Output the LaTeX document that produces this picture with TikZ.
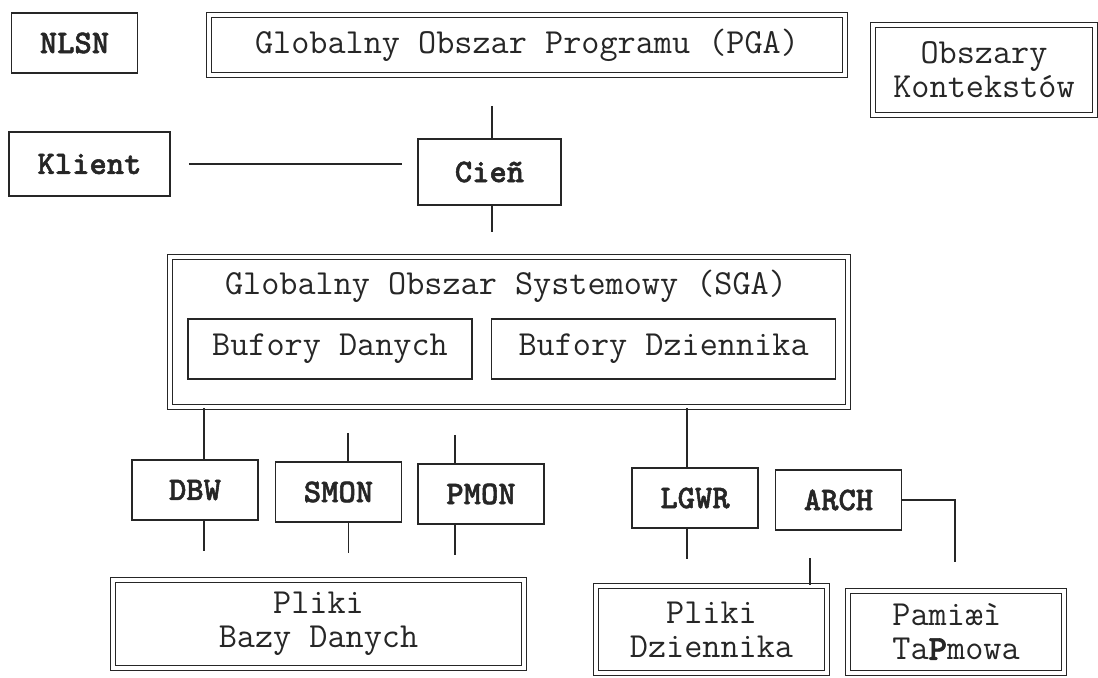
\documentclass[tikz,border=0pt]{standalone}
\usepackage{fontspec}
\newfontfamily\unitfont{lmmonolt10-bold}[Extension=.otf, FakeBold=1.6]
\usetikzlibrary{positioning}

\begin{document}
\begin{tikzpicture}[
        x=0.5pt, y=-0.5pt,
        every node/.style={
            inner sep=0pt,
            text=black!85,
            font=\fontsize{17.6}{17}\selectfont\ttfamily
        },
        unit/.style={
            rectangle,
            draw=black!85,
            line width=0.9pt,
            minimum width=63pt,
            minimum height=30pt,
            font=\fontsize{16.5}{16}\selectfont\unitfont
        },
        area/.style={
            rectangle,
            draw=black!85,
            line width=0.6pt,
            double,
            double distance=1.6pt,
            align=center
        },
        buffer/.style={
            rectangle,
            draw=black!85,
            line width=0.8pt,
            minimum height=30pt
        },
        link/.style={
            draw=black!85,
            line width=0.8pt
        }
    ]
        \useasboundingbox (0,0) rectangle (1098,678);

        % Nodes
        \node[unit] (nlsn) at (74.5,43) {NLSN};
        \node[area, minimum width=318pt, minimum height=30pt] (pga) at (527,45) {Globalny Obszar Programu (PGA)};
        \node[area, minimum width=111pt, minimum height=45pt] (kontekst) at (984,70) {Obszary\\Kontekstów};

        \node[unit, minimum width=80.5pt, minimum height=32pt] (klient) at (89.5,164) {Klient};
        \node[unit, minimum width=71.5pt, minimum height=33pt] (cien) at (489.5,172) {Cieñ};

        \node[area, minimum width=339pt, minimum height=75pt] (sga) at (509,332) {};
        \node (sgatitle) at (506,286) {Globalny Obszar Systemowy (SGA)};
        \node[buffer, minimum width=142pt] (bufdane) at (330,349) {Bufory Danych};
        \node[buffer, minimum width=172pt, right=9pt of bufdane] (bufdziennik) {Bufory Dziennika};

        \node[unit] (dbw) at (195,490) {DBW};
        \node[unit] (smon) at (338.5,492) {SMON};
        \node[unit] (pmon) at (481,494) {PMON};
        \node[unit] (lgwr) at (695,498) {LGWR};
        \node[unit] (arch) at (838.5,500) {ARCH};

        \node[area, minimum width=205.5pt, minimum height=44pt] (plikibazy) at (318.5,624) {Pliki\\Bazy Danych};
        \node[area, minimum width=115.5pt, minimum height=43.5pt] (plikidz) at (711.5,629.5) {Pliki\\Dziennika};
        \node[area, minimum width=108pt, minimum height=41pt, align=left] (tasma) at (956,632) {Pamiæì\\Ta{\unitfont P}mowa};

        % Free ends of the short stubs
        \coordinate (pgastub) at (492,106);
        \coordinate (cienstub) at (492,232);
        \coordinate (smonstub) at (348,433);
        \coordinate (pmonstub) at (455,435);
        \coordinate (dzstub) at (810,558);
        \coordinate (archstub) at (955,562);

        % Edges
        \draw[link, shorten <=9pt, shorten >=7.5pt] (klient.east) -- (klient.east -| cien.west);
        \draw[link] (pgastub) -- (pgastub |- cien.north);
        \draw[link] (cien.south -| cienstub) -- (cienstub);

        \draw[link] ([xshift=4.5pt]dbw.north) -- ([xshift=4.5pt]dbw.north |- sga.south);
        \draw[link] ([xshift=-4pt]lgwr.north) -- ([xshift=-4pt]lgwr.north |- sga.south);
        \draw[link] (smonstub) -- (smonstub |- smon.north);
        \draw[link] (pmonstub) -- (pmonstub |- pmon.north);

        \foreach \unit/\dx in {dbw/4.5pt, smon/5pt, pmon/-13pt, lgwr/-4pt} {
            \coordinate (\unit-out) at ([xshift=\dx, yshift=-15pt]\unit.south);
            \draw[link] ([xshift=\dx]\unit.south) -- (\unit-out);
        }

        \draw[link] (arch.east) -| (archstub);
        \draw[link] (dzstub) -- (dzstub |- plikidz.north);
    \end{tikzpicture}
\end{document}
